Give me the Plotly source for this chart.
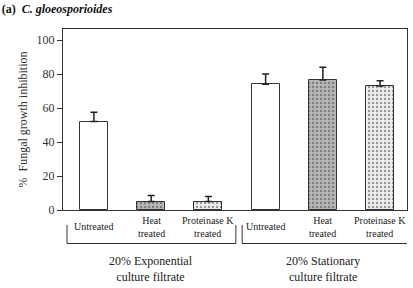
import plotly.graph_objects as go

categories = ["Untreated", "Heat<br>treated", "Proteinase K<br>treated",
              "Untreated", "Heat<br>treated", "Proteinase K<br>treated"]
values = [52, 5, 5, 74, 76.5, 73]
errors = [5.5, 3.5, 3, 6, 7.5, 3]
groups = ["20% Exponential<br>culture filtrate", "20% Stationary<br>culture filtrate"]
y_ticks = [0, 20, 40, 60, 80, 100]

fills = ["white", "#b8b8b8", "#f0f0f0", "white", "#b8b8b8", "#f0f0f0"]
pat_fg = ["white", "#a2a2a2", "#dcdcdc", "white", "#a2a2a2", "#dcdcdc"]
pat_shape = ["", ".", ".", "", ".", "."]

xs = list(range(len(values)))
FONT = "Liberation Serif"

fig = go.Figure()
fig.add_trace(go.Bar(
    x=xs, y=values, width=0.49,
    marker=dict(color=fills, line=dict(color="#333333", width=1),
                pattern=dict(shape=pat_shape, fgcolor=pat_fg, bgcolor=fills,
                             size=4, solidity=0.3)),
    error_y=dict(type="data", array=errors, arrayminus=[0]*len(errors),
                 symmetric=False, color="#222222", thickness=1.5, width=3.5),
    showlegend=False, hoverinfo="skip",
))

annotations = []
for x, c in zip(xs, categories):
    annotations.append(dict(x=x, y=0, xref="x", yref="paper", text=c,
                            showarrow=False, yanchor="middle", yshift=-16.5,
                            font=dict(family=FONT, size=10, color="#222222")))
for gi, g in enumerate(groups):
    annotations.append(dict(x=gi * 3 + 1, y=0, xref="x", yref="paper", text=g,
                            showarrow=False, yanchor="middle", yshift=-59,
                            font=dict(family=FONT, size=12, color="#222222")))

shapes = []
ph = 181.0
for gi in range(len(groups)):
    x0 = gi * 3 - 0.47 + (0.06 if gi == 1 else 0)
    x1 = gi * 3 + 2.48 + (0.06 if gi == 1 else 0)
    ytop = -15 / ph
    ybot = -33.5 / ph
    shapes.append(dict(type="path", xref="x", yref="paper",
                       path=f"M {x0},{ytop} L {x0},{ybot} L {x1},{ybot} L {x1},{ytop}",
                       line=dict(color="#333333", width=1)))

fig.update_layout(
    width=413, height=288,
    margin=dict(l=63, r=6, t=29, b=78, autoexpand=False),
    paper_bgcolor="white", plot_bgcolor="white",
    font=dict(family=FONT, color="#222222"),
    title=dict(text="<b>(a)  <i>C. gloeosporioides</i></b>",
               xref="container", x=0.004, xanchor="left",
               yref="container", y=1 - 9 / 288, yanchor="middle",
               automargin=False,
               font=dict(family=FONT, size=12, color="#111111")),
    xaxis=dict(range=[-0.54, 5.47], showticklabels=False, ticks="",
               showline=True, linecolor="#333333", linewidth=1, mirror=True,
               showgrid=False, zeroline=False, automargin=False, fixedrange=True),
    yaxis=dict(range=[0, 106.5], tickvals=y_ticks, ticks="outside", ticklen=5,
               tickcolor="#333333", tickfont=dict(family=FONT, size=12, color="#333333"),
               showline=True, linecolor="#333333", linewidth=1, mirror=True,
               showgrid=False, zeroline=False, automargin=False, fixedrange=True,
               title=dict(text="%  Fungal growth inhibition", standoff=6,
                          font=dict(family=FONT, size=12, color="#333333"))),
    annotations=annotations, shapes=shapes, bargap=0,
)
fig.write_html("out.html", config={"displayModeBar": False},
               post_script="document.body.style.margin='0';document.body.style.padding='0';")
